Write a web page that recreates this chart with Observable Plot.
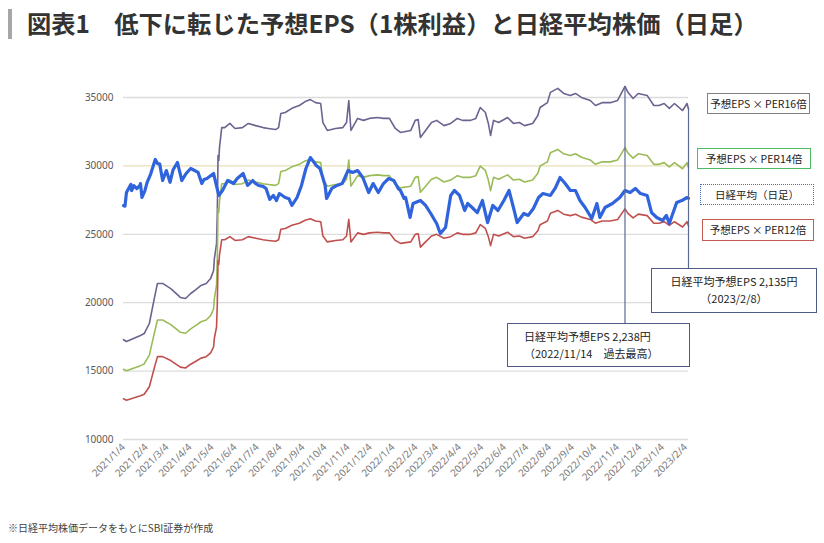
<!DOCTYPE html>
<html>
<head>
<meta charset="utf-8">
<script src="https://cdn.jsdelivr.net/npm/d3@7"></script>
<script src="https://cdn.jsdelivr.net/npm/@observablehq/plot@0.6"></script>
<style>
  html, body { margin: 0; padding: 0; background: #fff; }
  #wrap { position: relative; width: 824px; height: 543px; overflow: hidden; font-family: "Noto Sans CJK JP", "Noto Sans", sans-serif; }
  #bar { position: absolute; left: 8px; top: 9px; width: 4px; height: 30px; background: #a6a6a6; }
  #title { position: absolute; left: 27px; top: 5px; font-size: 24.3px; font-weight: 700; color: #333; white-space: nowrap; }
  #chart { position: absolute; left: 0; top: 50px; }
  .lg { position: absolute; box-sizing: border-box; font-size: 10.5px; color: #222; text-align: center; white-space: nowrap; background: #fff; line-height: 19px; }
  .ann { position: absolute; box-sizing: border-box; font-size: 11px; color: #222; white-space: nowrap; background: #fff; border: 1px solid #4d5b85; line-height: 17px; padding-top: 4px; }
  #foot { position: absolute; left: 8px; top: 520px; font-size: 10px; color: #444; white-space: nowrap; }
  #chart svg g[aria-label="x-axis tick label"] text { fill: #7a7a7a; }
</style>
</head>
<body>
<div id="wrap">
  <div id="bar"></div>
  <div id="title"></div>
  <div id="chart"></div>
  <div id="foot"></div>
</div>
<script>
// ---- data ----
const titleText = "図表1　低下に転じた予想EPS（1株利益）と日経平均株価（日足）";
const footText = "※日経平均株価データをもとにSBI証券が作成";

const niDates = ["2021-01-04","2021-01-06","2021-01-08","2021-01-14","2021-01-15","2021-01-18","2021-01-22","2021-01-26","2021-01-27","2021-01-29",
"2021-02-02","2021-02-05","2021-02-10","2021-02-16","2021-02-19","2021-02-22","2021-02-26","2021-03-03","2021-03-08","2021-03-12",
"2021-03-18","2021-03-24","2021-03-29","2021-03-31","2021-04-05","2021-04-09","2021-04-15","2021-04-20","2021-04-23","2021-04-27",
"2021-05-06","2021-05-13","2021-05-18","2021-05-25","2021-06-02","2021-06-07","2021-06-15","2021-06-21","2021-06-28","2021-07-02",
"2021-07-06","2021-07-12","2021-07-16","2021-07-21","2021-07-26","2021-07-30","2021-08-03","2021-08-11","2021-08-16","2021-08-20",
"2021-08-27","2021-09-02","2021-09-08","2021-09-14","2021-09-17","2021-09-22","2021-09-27","2021-09-30","2021-10-04","2021-10-06",
"2021-10-13","2021-10-20","2021-10-27","2021-11-04","2021-11-10","2021-11-17","2021-11-24","2021-12-02","2021-12-08","2021-12-15",
"2021-12-22","2021-12-29","2022-01-05","2022-01-11","2022-01-14","2022-01-19","2022-01-21","2022-01-27","2022-01-31","2022-02-10",
"2022-02-17","2022-02-24","2022-03-04","2022-03-09","2022-03-16","2022-03-23","2022-03-28","2022-04-04","2022-04-11","2022-04-15",
"2022-04-21","2022-04-28","2022-05-05","2022-05-12","2022-05-19","2022-05-26","2022-06-03","2022-06-10","2022-06-17","2022-06-21",
"2022-06-30","2022-07-06","2022-07-13","2022-07-20","2022-07-26","2022-08-05","2022-08-12","2022-08-18","2022-08-25","2022-09-01",
"2022-09-08","2022-09-14","2022-09-21","2022-09-30","2022-10-07","2022-10-11","2022-10-18","2022-10-28","2022-11-07","2022-11-14",
"2022-11-21","2022-11-28","2022-12-05","2022-12-14","2022-12-20","2022-12-27","2023-01-04","2023-01-09","2023-01-13","2023-01-23",
"2023-01-30","2023-02-06","2023-02-08"];
const niValues = [27100,27055,28050,28650,28200,28550,28350,28550,28710,27690,
28200,28800,29440,30470,30170,30150,28930,29660,28800,29700,
30250,28930,29380,29520,29810,29700,29520,28710,29000,29080,
29440,27840,28200,28930,28710,29080,29440,28570,28930,28700,
28570,28500,28350,27550,27840,27470,27980,27690,27600,27110,
27690,28570,29810,30610,30400,30030,29810,29300,28570,27620,
28350,28570,28710,29660,29520,29660,29150,28050,28710,28050,
28710,29080,28930,28350,28200,27620,27690,26230,27250,27470,
27110,26520,25790,25060,25500,27840,28200,27840,26740,27250,
26960,26590,27470,25860,27110,26740,27470,28200,26740,25860,
26520,26380,26890,27690,27980,27840,28420,29150,28710,28200,
28200,27470,26960,26160,27250,26230,26960,27250,27690,28200,
28050,28350,27980,27840,26590,26230,26010,26380,25790,27330,
27470,27690,27620];

const epsDates = ["2021-01-04","2021-01-08","2021-01-27","2021-02-01","2021-02-08","2021-02-15","2021-02-19","2021-02-26","2021-03-09","2021-03-15",
"2021-03-22","2021-03-29","2021-04-05","2021-04-12","2021-04-19","2021-04-26","2021-05-02","2021-05-06","2021-05-07","2021-05-10",
"2021-05-11","2021-05-12","2021-05-13","2021-05-14","2021-05-17","2021-05-21","2021-05-28","2021-06-04","2021-06-14","2021-06-22",
"2021-07-02","2021-07-12","2021-07-19","2021-07-29","2021-08-02","2021-08-05","2021-08-11","2021-08-20","2021-08-30","2021-09-07",
"2021-09-14","2021-09-21","2021-09-28","2021-10-01","2021-10-07","2021-10-18","2021-10-28","2021-11-02","2021-11-05","2021-11-08",
"2021-11-17","2021-11-25","2021-12-03","2021-12-14","2021-12-22","2021-12-30","2022-01-07","2022-01-14","2022-01-28","2022-02-03",
"2022-02-07","2022-02-10","2022-02-17","2022-02-25","2022-03-04","2022-03-14","2022-03-23","2022-04-01","2022-04-08","2022-04-19",
"2022-04-26","2022-05-02","2022-05-09","2022-05-13","2022-05-16","2022-05-20","2022-05-27","2022-06-08","2022-06-16","2022-06-24",
"2022-07-01","2022-07-12","2022-07-19","2022-07-22","2022-08-01","2022-08-05","2022-08-15","2022-08-23","2022-09-01","2022-09-08",
"2022-09-16","2022-09-28","2022-10-05","2022-10-14","2022-10-25","2022-11-04","2022-11-14","2022-11-18","2022-11-25","2022-12-02",
"2022-12-14","2022-12-23","2022-12-30","2023-01-06","2023-01-13","2023-01-20","2023-01-31","2023-02-06","2023-02-08"];
const epsValues = [1081,1073,1100,1109,1155,1274,1338,1338,1314,1296,
1274,1269,1292,1310,1329,1338,1361,1397,1450,1520,
1660,1922,1900,1960,2050,2050,2069,2046,2050,2069,
2059,2050,2046,2041,2050,2114,2119,2138,2151,2169,
2178,2164,2160,2073,2037,2046,2050,2073,2174,2037,
2092,2083,2092,2096,2092,2092,2046,2028,2037,2083,
2087,2005,2037,2073,2083,2059,2069,2092,2083,2083,
2092,2142,2119,2069,2014,2083,2073,2096,2069,2073,
2059,2069,2105,2142,2164,2211,2229,2206,2197,2206,
2188,2174,2151,2164,2164,2174,2238,2211,2183,2206,
2197,2151,2151,2160,2138,2160,2128,2160,2135];

const perMultiples = [16, 14, 12];
const perLabels = ["予想EPS\u2009×\u2009PER16倍", "予想EPS\u2009×\u2009PER14倍", "予想EPS\u2009×\u2009PER12倍"];
const nikkeiLabel = "日経平均（日足）";

const yTicks = [10000, 15000, 20000, 25000, 30000, 35000];
const xTickDates = ["2021-01-04","2021-02-04","2021-03-04","2021-04-04","2021-05-04","2021-06-04","2021-07-04","2021-08-04","2021-09-04","2021-10-04",
"2021-11-04","2021-12-04","2022-01-04","2022-02-04","2022-03-04","2022-04-04","2022-05-04","2022-06-04","2022-07-04","2022-08-04",
"2022-09-04","2022-10-04","2022-11-04","2022-12-04","2023-01-04","2023-02-04"];

const annDates = ["2022-11-14", "2023-02-08"];
const annEps = [2238, 2135];
const annLine1 = ["日経平均予想EPS  2,238円", "日経平均予想EPS  2,135円"];
const annLine2 = ["（2022/11/14　過去最高）", "（2023/2/8）"];

// ---- build ----
const parse = d3.utcParse("%Y-%m-%d");
const nikkei = niDates.map((d, i) => ({date: parse(d), value: niValues[i]}));
const perColors = {16: "#6e6290", 14: "#9bbb59", 12: "#c0504d"};
const perLines = perMultiples.flatMap(m => epsDates.map((d, i) => ({date: parse(d), value: epsValues[i] * m, m})));
const annBottoms = [18480, 22500];
const ann = annDates.map((d, i) => ({date: parse(d), top: annEps[i] * 16, bottom: annBottoms[i]}));

document.getElementById("title").textContent = titleText;
document.getElementById("foot").textContent = footText;

const chart = Plot.plot({
  width: 824,
  height: 460,
  marginLeft: 123,
  marginRight: 136,
  marginTop: 47,
  marginBottom: 71,
  style: {fontFamily: "'Noto Sans', 'Open Sans', sans-serif", fontSize: "10px", color: "#595959", background: "transparent", overflow: "visible"},
  x: {type: "utc", domain: [parse("2021-01-04"), parse("2023-02-08")], ticks: xTickDates.map(parse), tickFormat: d3.utcFormat("%Y/%-m/%-d"), tickRotate: -45, tickSize: 0, tickPadding: 6, label: null},
  y: {domain: [10000, 35000], ticks: yTicks, tickFormat: d => String(d), tickSize: 0, tickPadding: 10, label: null},
  marks: [
    Plot.ruleY(yTicks, {stroke: d => d === 30000 ? "#eadfb8" : "#dcdcdc", strokeWidth: 1.3}),
    Plot.line(perLines, {x: "date", y: "value", z: "m", stroke: d => perColors[d.m], strokeWidth: 1.6}),
    Plot.line(nikkei, {x: "date", y: "value", stroke: "#2f64dc", strokeWidth: 3.2}),
    Plot.ruleX(ann, {x: "date", y1: "top", y2: "bottom", stroke: "#5b6a95", strokeWidth: 1.2})
  ]
});
document.getElementById("chart").appendChild(chart);

// legends (right side)
const wrap = document.getElementById("wrap");
const legendSpecs = [
  {text: perLabels[0], left: 707, top: 93, w: 103, h: 21, border: "1px solid #808080"},
  {text: perLabels[1], left: 697, top: 148, w: 114, h: 21, border: "1px solid #4cba62"},
  {text: nikkeiLabel, left: 700, top: 184, w: 114, h: 21, border: "1px dotted #4472c4"},
  {text: perLabels[2], left: 702, top: 219, w: 112, h: 22, border: "1px solid #c65b55"}
];
legendSpecs.forEach(s => {
  const el = document.createElement("div");
  el.className = "lg";
  el.textContent = s.text;
  Object.assign(el.style, {left: s.left + "px", top: s.top + "px", width: s.w + "px", height: s.h + "px", border: s.border});
  wrap.appendChild(el);
});

// annotation boxes
const annBoxes = [
  {left: 507, top: 323, w: 183, h: 44, align: "left"},
  {left: 651, top: 268, w: 166, h: 45, align: "center"}
];
annBoxes.forEach((s, i) => {
  const el = document.createElement("div");
  el.className = "ann";
  Object.assign(el.style, {left: s.left + "px", top: s.top + "px", width: s.w + "px", height: s.h + "px", textAlign: s.align, paddingLeft: s.align === "left" ? "16px" : "0"});
  const l1 = document.createElement("div"); l1.textContent = annLine1[i];
  const l2 = document.createElement("div"); l2.textContent = annLine2[i];
  el.appendChild(l1); el.appendChild(l2);
  wrap.appendChild(el);
});
</script>
</body>
</html>
